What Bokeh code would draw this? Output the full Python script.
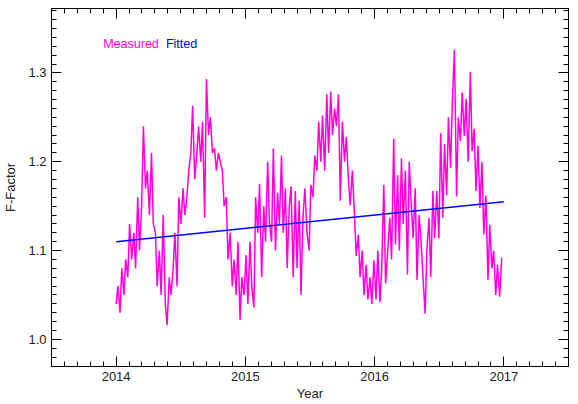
import numpy as np
import pandas as pd
from bokeh.plotting import figure
from bokeh.models import FixedTicker, NumeralTickFormatter, LinearAxis, Label, Range1d, CustomJSTickFormatter
from bokeh.embed import file_html
from bokeh.resources import INLINE

# Measured F-Factor, sampled roughly every 5.5 days from 2014-01-01 to 2016-12-26
measured = [
    1.040, 1.060, 1.030, 1.080, 1.050, 1.090, 1.070, 1.130, 1.090, 1.120,
    1.080, 1.160, 1.100, 1.150, 1.240, 1.170, 1.190, 1.140, 1.210, 1.130,
    1.120, 1.060, 1.100, 1.050, 1.140, 1.040, 1.016, 1.070, 1.050, 1.080,
    1.120, 1.060, 1.160, 1.130, 1.170, 1.140, 1.160, 1.190, 1.210, 1.263,
    1.180, 1.210, 1.240, 1.200, 1.245, 1.137, 1.293, 1.230, 1.250, 1.210,
    1.215, 1.190, 1.210, 1.200, 1.190, 1.150, 1.160, 1.090, 1.120, 1.060,
    1.090, 1.050, 1.110, 1.022, 1.070, 1.050, 1.095, 1.040, 1.110, 1.060,
    1.036, 1.160, 1.120, 1.175, 1.070, 1.150, 1.110, 1.200, 1.130, 1.110,
    1.215, 1.100, 1.165, 1.130, 1.207, 1.120, 1.170, 1.080, 1.150, 1.172,
    1.070, 1.167, 1.080, 1.156, 1.050, 1.140, 1.170, 1.120, 1.100, 1.174,
    1.160, 1.207, 1.190, 1.245, 1.200, 1.252, 1.190, 1.276, 1.210, 1.279,
    1.230, 1.260, 1.240, 1.276, 1.156, 1.245, 1.200, 1.228, 1.180, 1.151,
    1.190, 1.150, 1.094, 1.118, 1.070, 1.100, 1.050, 1.084, 1.045, 1.070,
    1.040, 1.089, 1.045, 1.100, 1.042, 1.080, 1.174, 1.063, 1.100, 1.137,
    1.090, 1.226, 1.107, 1.185, 1.100, 1.204, 1.130, 1.190, 1.073, 1.200,
    1.150, 1.114, 1.170, 1.067, 1.140, 1.114, 1.070, 1.029, 1.100, 1.137,
    1.070, 1.167, 1.114, 1.167, 1.114, 1.232, 1.137, 1.220, 1.162, 1.250,
    1.193, 1.267, 1.326, 1.161, 1.250, 1.223, 1.278, 1.229, 1.271, 1.200,
    1.301, 1.212, 1.237, 1.167, 1.218, 1.148, 1.200, 1.118, 1.162, 1.067,
    1.129, 1.080, 1.100, 1.050, 1.084, 1.048, 1.092,
]
start_date = "2014-01-01"
end_date = "2016-12-26"

# Linear fit end points
fit_years = [2014.0, 2017.0]
fit_values = [1.110, 1.155]

x_ticks = [2014, 2015, 2016, 2017]
y_ticks = [1.0, 1.1, 1.2, 1.3]
x_label = "Year"
y_label = "F-Factor"
legend_labels = ["Measured", "Fitted"]

dates = pd.date_range(start_date, end_date, periods=len(measured))
years = (dates.year + (dates.dayofyear - 1) / np.where(dates.is_leap_year, 366, 365)).to_numpy()

MAG = "#ff00dd"
BLUE = "#0000ff"
FONT = "Liberation Sans"

p = figure(width=569, height=403, output_backend="svg", toolbar_location=None,
           x_range=Range1d(2013.5, 2017.5), y_range=Range1d(0.9695, 1.3725),
           min_border_left=47, min_border_right=1, min_border_top=8, min_border_bottom=0)
p.title.visible = False
p.xgrid.visible = False
p.ygrid.visible = False
p.outline_line_color = "black"
p.outline_line_width = 1
p.background_fill_color = "white"

p.line(years, measured, line_color=MAG, line_width=1.5)
p.line(fit_years, fit_values, line_color=BLUE, line_width=1.5)

xt = FixedTicker(ticks=x_ticks, minor_ticks=list(np.round(np.arange(2013.5, 2017.51, 0.1), 2)))
yt = FixedTicker(ticks=y_ticks, minor_ticks=list(np.round(np.arange(0.97, 1.375, 0.01), 3)))

def style(ax):
    ax.axis_line_color = "black"
    ax.axis_line_width = 1
    ax.major_tick_in = 10
    ax.major_tick_out = 0
    ax.minor_tick_in = 5
    ax.minor_tick_out = 0
    ax.major_tick_line_color = "black"
    ax.minor_tick_line_color = "black"
    ax.major_label_text_font = FONT
    ax.major_label_text_font_size = "13px"
    ax.major_label_text_color = "#222222"
    ax.axis_label_text_font = FONT
    ax.axis_label_text_font_size = "13px"
    ax.axis_label_text_font_style = "normal"
    ax.axis_label_text_color = "#222222"

xa = p.xaxis[0]
xa.ticker = xt
xa.axis_label = x_label
xa.major_label_standoff = 5
xa.axis_label_standoff = 2
style(xa)

ya = p.yaxis[0]
ya.ticker = yt
ya.formatter = NumeralTickFormatter(format="0.0")
ya.axis_label = y_label
ya.major_label_standoff = 5
ya.axis_label_standoff = 7
style(ya)

blank = CustomJSTickFormatter(code="return ''")
top = LinearAxis(ticker=xt, formatter=blank)
style(top)
top.major_label_standoff = 0
p.add_layout(top, "above")
right = LinearAxis(ticker=yt, formatter=blank)
style(right)
right.major_label_standoff = 0
p.add_layout(right, "right")

p.add_layout(Label(x=2013.9, y=1.333, text=legend_labels[0], text_color=MAG,
                   text_font=FONT, text_font_size="12.5px", text_baseline="middle"))
p.add_layout(Label(x=2014.385, y=1.333, text=legend_labels[1], text_color=BLUE,
                   text_font=FONT, text_font_size="12.5px", text_baseline="middle"))

open("out.html", "w").write(file_html(p, INLINE))
